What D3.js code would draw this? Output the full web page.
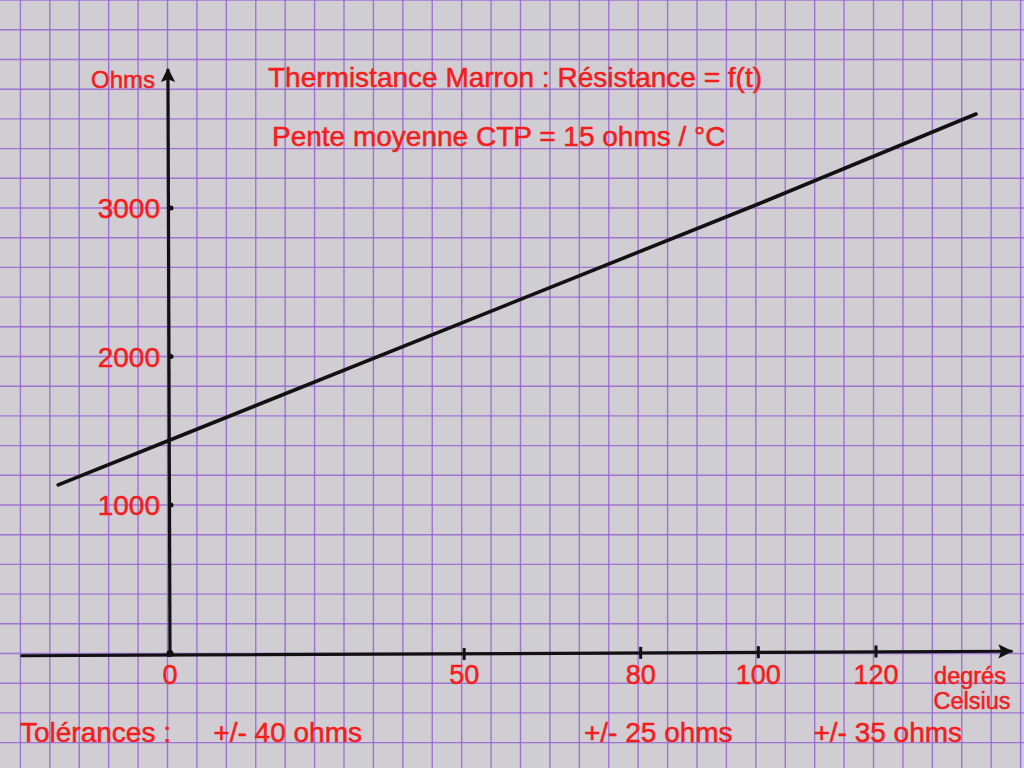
<!DOCTYPE html>
<html>
<head>
<meta charset="utf-8">
<script src="https://cdn.jsdelivr.net/npm/d3@7"></script>
<style>
  body { margin: 0; background: #d1ced5; }
  svg { display: block; }
  text { font-family: "Liberation Sans", Arial, sans-serif; fill: #f41c1c; stroke: #f41c1c; stroke-width: 0.5; }
</style>
</head>
<body>
<script>
var width = 1024,
  height = 768;

// values
var lineTemps = [-19, 0, 100, 137];
var lineOhms = [1135, 1438, 3027, 3633];
var xTicks = [0, 50, 80, 100, 120];
var yTicks = [1000, 2000, 3000];
var tolLabels = ["+/- 40 ohms", "+/- 25 ohms", "+/- 35 ohms"];
var tolTemps = [20, 83, 122];
var titleLines = ["Thermistance Marron : Résistance = f(t)", "Pente moyenne CTP = 15 ohms / °C"];

// scales : 5 °C and 200 ohms per square
var x = d3.scaleLinear().domain([0, 120]).range([170, 876]);
var y = d3.scaleLinear().domain([0, 3000]).range([653.5, 208]);

var svg = d3.select("body").append("svg")
  .attr("width", width)
  .attr("height", height);

svg.append("rect")
  .attr("width", width)
  .attr("height", height)
  .attr("fill", "#d0cdd3");

// graph paper grid
var gx = d3.range(-40, 160, 5).map(x).filter(function (v) { return v > -5 && v < width + 5; });
var gy = d3.range(-600, 4600, 200).map(y).filter(function (v) { return v > -5 && v < height + 5; });

var grid = svg.append("g")
  .attr("stroke", "#9763d4")
  .attr("stroke-opacity", 0.85)
  .attr("stroke-width", 1.4);

grid.selectAll("line.v")
  .data(gx)
  .enter().append("line")
  .attr("class", "v")
  .attr("x1", function (d) { return d - 2.5; })
  .attr("x2", function (d) { return d - 2.5; })
  .attr("y1", 0)
  .attr("y2", height);

grid.selectAll("line.h")
  .data(gy)
  .enter().append("line")
  .attr("class", "h")
  .attr("x1", 0)
  .attr("x2", width)
  .attr("y1", function (d) { return d; })
  .attr("y2", function (d) { return d; });

// arrow heads
svg.append("defs").append("marker")
  .attr("id", "arrow")
  .attr("viewBox", "0 0 10 10")
  .attr("refX", 9)
  .attr("refY", 5)
  .attr("markerWidth", 6)
  .attr("markerHeight", 4.5)
  .attr("orient", "auto")
  .append("path")
  .attr("d", "M0,0 L10,5 L0,10 L2,5 Z")
  .attr("fill", "#111");

// axes
svg.append("line")
  .attr("x1", x(-25.2)).attr("y1", y(-15))
  .attr("x2", x(143)).attr("y2", y(15))
  .attr("stroke", "#111")
  .attr("stroke-width", 3.2)
  .attr("stroke-linecap", "round")
  .attr("marker-end", "url(#arrow)");

svg.append("line")
  .attr("x1", x(0)).attr("y1", y(0))
  .attr("x2", x(-0.35)).attr("y2", y(3935))
  .attr("stroke", "#111")
  .attr("stroke-width", 3.2)
  .attr("marker-end", "url(#arrow)");

// tick marks
svg.selectAll("line.xt")
  .data(xTicks.slice(1))
  .enter().append("line")
  .attr("class", "xt")
  .attr("x1", function (d) { return x(d); })
  .attr("x2", function (d) { return x(d); })
  .attr("y1", function (d) { return y(-15 + d / 4.2) - 6; })
  .attr("y2", function (d) { return y(-15 + d / 4.2) + 6; })
  .attr("stroke", "#111")
  .attr("stroke-width", 3);

svg.selectAll("circle.yt")
  .data(yTicks)
  .enter().append("circle")
  .attr("class", "yt")
  .attr("cx", x(0) + 1)
  .attr("cy", function (d) { return y(d); })
  .attr("r", 2.5)
  .attr("fill", "#111");

svg.append("circle")
  .attr("cx", x(0)).attr("cy", y(0)).attr("r", 3.5).attr("fill", "#111");

// resistance line
var line = d3.line()
  .x(function (d) { return x(d[0]); })
  .y(function (d) { return y(d[1]); });

svg.append("path")
  .datum(d3.zip(lineTemps, lineOhms))
  .attr("d", line)
  .attr("fill", "none")
  .attr("stroke", "#111")
  .attr("stroke-width", 3.6)
  .attr("stroke-linecap", "round");

// tick labels
svg.selectAll("text.xl")
  .data(xTicks)
  .enter().append("text")
  .attr("class", "xl")
  .attr("x", function (d) { return x(d); })
  .attr("y", 684)
  .attr("text-anchor", "middle")
  .attr("font-size", 27)
  .text(function (d) { return d; });

svg.selectAll("text.yl")
  .data(yTicks)
  .enter().append("text")
  .attr("class", "yl")
  .attr("x", 160)
  .attr("y", function (d) { return y(d) + 10; })
  .attr("text-anchor", "end")
  .attr("font-size", 28)
  .text(function (d) { return d; });

// axis titles
svg.append("text")
  .attr("x", 155).attr("y", 88)
  .attr("text-anchor", "end")
  .attr("font-size", 24)
  .text("Ohms");

svg.append("text")
  .attr("x", 970).attr("y", 684)
  .attr("text-anchor", "middle")
  .attr("font-size", 23.5)
  .text("degrés");

svg.append("text")
  .attr("x", 972).attr("y", 709)
  .attr("text-anchor", "middle")
  .attr("font-size", 23.5)
  .text("Celsius");

// titles
svg.selectAll("text.title")
  .data(titleLines)
  .enter().append("text")
  .attr("class", "title")
  .attr("x", function (d, i) { return i ? 272 : 268; })
  .attr("y", function (d, i) { return i ? 146 : 87; })
  .attr("font-size", 28)
  .text(function (d) { return d; });

// tolerances
svg.append("text")
  .attr("x", 20).attr("y", 742)
  .attr("font-size", 28)
  .text("Tolérances :");

svg.selectAll("text.tol")
  .data(tolLabels)
  .enter().append("text")
  .attr("class", "tol")
  .attr("x", function (d, i) { return x(tolTemps[i]); })
  .attr("y", 742)
  .attr("text-anchor", "middle")
  .attr("font-size", 28)
  .text(function (d) { return d; });
</script>
</body>
</html>
